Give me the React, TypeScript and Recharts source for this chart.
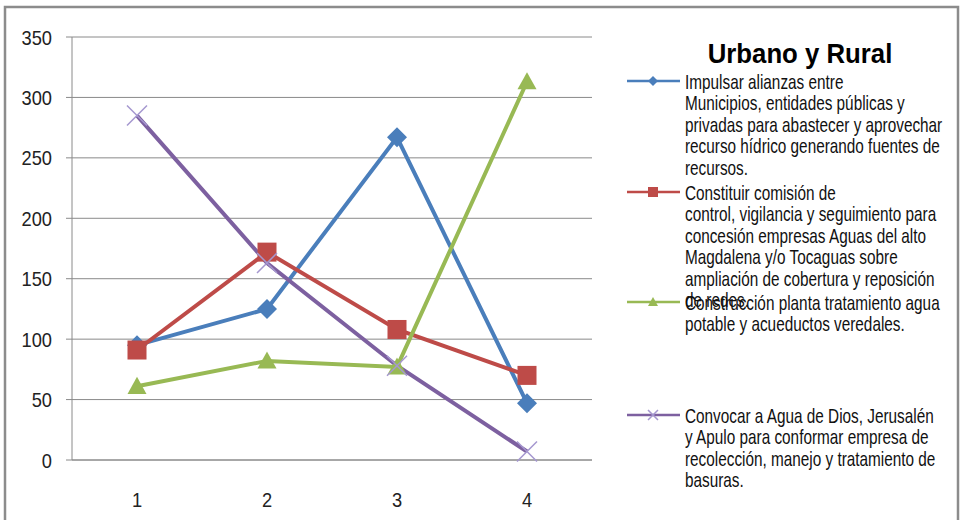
import { CartesianGrid, Line, LineChart, XAxis, YAxis } from 'recharts'

const categories = [1, 2, 3, 4]
const impulsar = [95, 125, 267, 47]
const comision = [91, 172, 108, 70]
const planta = [61, 82, 77, 313]
const basuras = [285, 163, 78, 7]
const yTicks = [0, 50, 100, 150, 200, 250, 300, 350]
const bandEdges = [0.5, 1.5, 2.5, 3.5, 4.5]

const title = 'Urbano y Rural'
const impulsarLabel = ['Impulsar alianzas entre', 'Municipios, entidades públicas y', 'privadas para abastecer y aprovechar', 'recurso hídrico generando fuentes de', 'recursos.']
const comisionLabel = ['Constituir comisión de', 'control, vigilancia y seguimiento para', 'concesión empresas Aguas del alto', 'Magdalena y/o Tocaguas sobre', 'ampliación de cobertura y reposición', 'de redes.']
const plantaLabel = ['Construcción planta tratamiento agua', 'potable y acueductos veredales.']
const basurasLabel = ['Convocar a Agua de Dios, Jerusalén', 'y Apulo para conformar empresa de', 'recolección, manejo y tratamiento de', 'basuras.']

const data = categories.map((x, i) => ({ x, impulsar: impulsar[i], comision: comision[i], planta: planta[i], basuras: basuras[i] }))

// Arial-metric font squeezed horizontally to mimic Arial Narrow
const font = "'Liberation Sans', Arial, sans-serif"
const grid = '#8a8a8a'
const blue = '#4a7ebb', red = '#be4b48', green = '#98b954', purple = '#7d60a0', lavender = '#a597cf'

type Shape = 'diamond' | 'square' | 'triangle' | 'cross'

function marker(shape: Shape, cx: number, cy: number, r: number, key?: string) {
  if (shape === 'diamond') return <path key={key} d={`M${cx} ${cy - r}L${cx + r} ${cy}L${cx} ${cy + r}L${cx - r} ${cy}Z`} fill={blue} />
  if (shape === 'square') return <rect key={key} x={cx - r} y={cy - r} width={r * 2} height={r * 2} fill={red} />
  if (shape === 'triangle') return <path key={key} d={`M${cx} ${cy - r}L${cx + r} ${cy + r * 0.8}L${cx - r} ${cy + r * 0.8}Z`} fill={green} />
  return <path key={key} d={`M${cx - r} ${cy - r}L${cx + r} ${cy + r}M${cx + r} ${cy - r}L${cx - r} ${cy + r}`} stroke={lavender} strokeWidth={1.5} fill="none" />
}

const dot = (shape: Shape, r: number) => (p: any) => marker(shape, p.cx, p.cy, r, `${shape}-${p.index}`)

const NarrowTick = ({ x, y, payload, anchor, dy }: any) =>
  <g transform={`translate(${x},${y}) scale(0.87,1)`}>
    <text textAnchor={anchor} dy={dy} fontSize={21} fontFamily={font} fill="#222">{payload.value}</text>
  </g>

const legend = [
  { lines: impulsarLabel, color: blue, shape: 'diamond' as Shape, base: 89 },
  { lines: comisionLabel, color: red, shape: 'square' as Shape, base: 200 },
  { lines: plantaLabel, color: green, shape: 'triangle' as Shape, base: 310 },
  { lines: basurasLabel, color: purple, shape: 'cross' as Shape, base: 423 },
]

export default function App() {
  return <div style={{ position: 'absolute', left: 0, top: 0, width: 961, height: 520, background: '#fff', fontFamily: font }}>
    <LineChart width={961} height={520} data={data} margin={{ top: 37, right: 369, bottom: 9, left: 0 }}>
      <CartesianGrid xAxisId="edges" vertical={false} stroke={grid} />
      <XAxis xAxisId="edges" dataKey="x" type="number" domain={[0.5, 4.5]} ticks={bandEdges} height={1} tick={false} tickSize={6} stroke={grid} />
      <XAxis xAxisId="labels" dataKey="x" type="number" domain={[0.5, 4.5]} ticks={categories} height={50} axisLine={false} tickLine={false} tickSize={0} tickMargin={31} tick={<NarrowTick anchor="middle" dy="0.72em" />} />
      <YAxis width={72} domain={[0, 350]} ticks={yTicks} tickSize={6} tickMargin={14} stroke={grid} tick={<NarrowTick anchor="end" dy="0.36em" />} />
      <Line xAxisId="edges" dataKey="impulsar" stroke={blue} strokeWidth={4} dot={dot('diamond', 10)} isAnimationActive={false} />
      <Line xAxisId="edges" dataKey="comision" stroke={red} strokeWidth={4} dot={dot('square', 9.5)} isAnimationActive={false} />
      <Line xAxisId="edges" dataKey="planta" stroke={green} strokeWidth={4} dot={dot('triangle', 9.5)} isAnimationActive={false} />
      <Line xAxisId="edges" dataKey="basuras" stroke={purple} strokeWidth={4} dot={dot('cross', 10)} isAnimationActive={false} />
    </LineChart>
    <svg width={961} height={520} style={{ position: 'absolute', left: 0, top: 0, pointerEvents: 'none' }}>
      <path d="M5 520V7H958V520" fill="none" stroke="#8c8c8c" strokeWidth={2.5} />
      <g transform="translate(800,63) scale(0.92,1)">
        <text textAnchor="middle" fontSize={28} fontWeight="bold" fontFamily={font} fill="#000">{title}</text>
      </g>
      {legend.map(item => <g key={item.color}>
        <line x1={627} x2={680} y1={item.base - 8} y2={item.base - 8} stroke={item.color} strokeWidth={2.5} />
        {marker(item.shape, 653, item.base - 8, 5)}
        <g transform={`translate(685,${item.base}) scale(0.73,1)`}>
          {item.lines.map((t, i) => <text key={i} x={0} y={i * 21.5} fontSize={21} fontFamily={font} fill="#111">{t}</text>)}
        </g>
      </g>)}
    </svg>
  </div>
}
